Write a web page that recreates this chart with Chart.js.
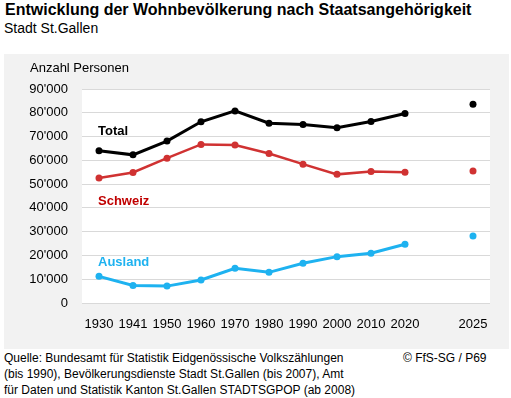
<!DOCTYPE html>
<html>
<head>
<meta charset="utf-8">
<script src="https://cdn.jsdelivr.net/npm/chart.js@4/dist/chart.umd.min.js"></script>
<style>
  body { margin: 0; background: #fff; font-family: Arial, "Liberation Sans", sans-serif; color: #000; }
  #wrap { position: relative; width: 511px; height: 398px; overflow: hidden; }
  #titel { position: absolute; left: 5px; top: 1px; font-size: 16px; font-weight: bold; }
  #untertitel { position: absolute; left: 4px; top: 20px; font-size: 14px; }
  #panel { position: absolute; left: 4px; top: 54px; width: 505px; height: 295px; background: #f2f2f2; }
  #quelle { position: absolute; left: 4px; top: 350px; font-size: 12px; line-height: 16px; }
  #copy { position: absolute; left: 403px; top: 350px; font-size: 12px; line-height: 16px; }
</style>
</head>
<body>
<div id="wrap">
  <div id="titel">Entwicklung der Wohnbevölkerung nach Staatsangehörigkeit</div>
  <div id="untertitel">Stadt St.Gallen</div>
  <div id="panel"><canvas id="grafik" width="505" height="295"></canvas></div>
  <div id="quelle">Quelle: Bundesamt für Statistik Eidgenössische Volkszählungen<br>(bis 1990), Bevölkerungsdienste Stadt St.Gallen (bis 2007), Amt<br>für Daten und Statistik Kanton St.Gallen STADTSGPOP (ab 2008)</div>
  <div id="copy">© FfS-SG / P69</div>
</div>
<script>
// Jahre (2025 steht abgesetzt nach einer Lücke)
const jahre = ['1930', '1941', '1950', '1960', '1970', '1980', '1990', '2000', '2010', '2020'];
const jahrPrognose = '2025';

const total   = [64000, 62300, 68100, 76200, 80800, 75600, 75100, 73700, 76300, 79700];
const schweiz = [52600, 54900, 60900, 66700, 66400, 62900, 58400, 54100, 55300, 55000];
const ausland = [11200,  7400,  7100,  9700, 14600, 12900, 16700, 19500, 20900, 24700];

const total2025   = 83600;
const schweiz2025 = 55500;
const ausland2025 = 28200;

const serienNamen = ['Total', 'Schweiz', 'Ausland'];
const namenY = [72300, 42900, 17200];   // Höhe der Beschriftungen

const yTicks = [0, 10000, 20000, 30000, 40000, 50000, 60000, 70000, 80000, 90000];

// Kategorien mit leerem Platz vor 2025
const labels = [...jahre, '', jahrPrognose];
const mitLuecke = (werte, prognose) => [...werte, null, prognose];

const farben = ['#000000', '#d03232', '#1eb2f0'];
const textFarben = ['#000000', '#c00000', '#1eb2f0'];

// weisser Hintergrund der Zeichenfläche
const flaechePlugin = {
    id: 'flaeche',
    beforeDraw(chart) {
        const a = chart.chartArea;
        chart.ctx.save();
        chart.ctx.fillStyle = '#fff';
        chart.ctx.fillRect(a.left, a.top, a.right - a.left, a.bottom - a.top);
        chart.ctx.restore();
    }
};

// Serienname direkt im Diagramm
const namenPlugin = {
    id: 'namen',
    afterDatasetsDraw(chart) {
        const ctx = chart.ctx;
        const x = chart.scales.x.getPixelForValue(0) - 1;
        ctx.save();
        ctx.font = 'bold 13px Arial, "Liberation Sans", sans-serif';
        ctx.textAlign = 'left';
        ctx.textBaseline = 'middle';
        serienNamen.forEach((name, i) => {
            ctx.fillStyle = textFarben[i];
            ctx.fillText(name, x, chart.scales.y.getPixelForValue(namenY[i]));
        });
        // Achsentitel
        ctx.font = '13px Arial, "Liberation Sans", sans-serif';
        ctx.fillStyle = '#000';
        ctx.fillText('Anzahl Personen', 26, 14);
        ctx.restore();
    }
};

const ctx = document.getElementById('grafik').getContext('2d');
const datensatz = (name, werte, prognose, i, breite) => ({
    label: name,
    data: mitLuecke(werte, prognose),
    borderColor: farben[i],
    backgroundColor: farben[i],
    borderWidth: breite,
    pointRadius: 3.5,
    pointBorderWidth: 0,
    spanGaps: false,
    tension: 0
});

new Chart(ctx, {
    type: 'line',
    data: {
        labels,
        datasets: [
            datensatz('Total', total, total2025, 0, 3),
            datensatz('Schweiz', schweiz, schweiz2025, 1, 2.5),
            datensatz('Ausland', ausland, ausland2025, 2, 3)
        ]
    },
    options: {
        responsive: false,
        animation: false,
        layout: { padding: { top: 35, right: 19, left: 0, bottom: 0 } },
        plugins: { legend: { display: false }, tooltip: { enabled: false } },
        scales: {
            x: {
                offset: true,
                grid: { display: false },
                border: { display: false },
                ticks: {
                    color: '#000',
                    padding: 6,
                    maxRotation: 0,
                    autoSkip: false,
                    font: { family: 'Arial, "Liberation Sans", sans-serif', size: 13 }
                },
                afterFit: s => { s.height = 46; }
            },
            y: {
                min: 0,
                max: 90000,
                afterBuildTicks: s => { s.ticks = yTicks.map(v => ({ value: v })); },
                grid: { color: '#d9d9d9', lineWidth: 1, drawTicks: false },
                border: { display: false },
                ticks: {
                    color: '#000',
                    padding: 14,
                    font: { family: 'Arial, "Liberation Sans", sans-serif', size: 13 },
                    callback: v => v === 0 ? '0' : String(v).replace(/\B(?=(\d{3})+(?!\d))/g, "'")
                },
                afterFit: s => { s.width = 78; }
            }
        }
    },
    plugins: [flaechePlugin, namenPlugin]
});
</script>
</body>
</html>
